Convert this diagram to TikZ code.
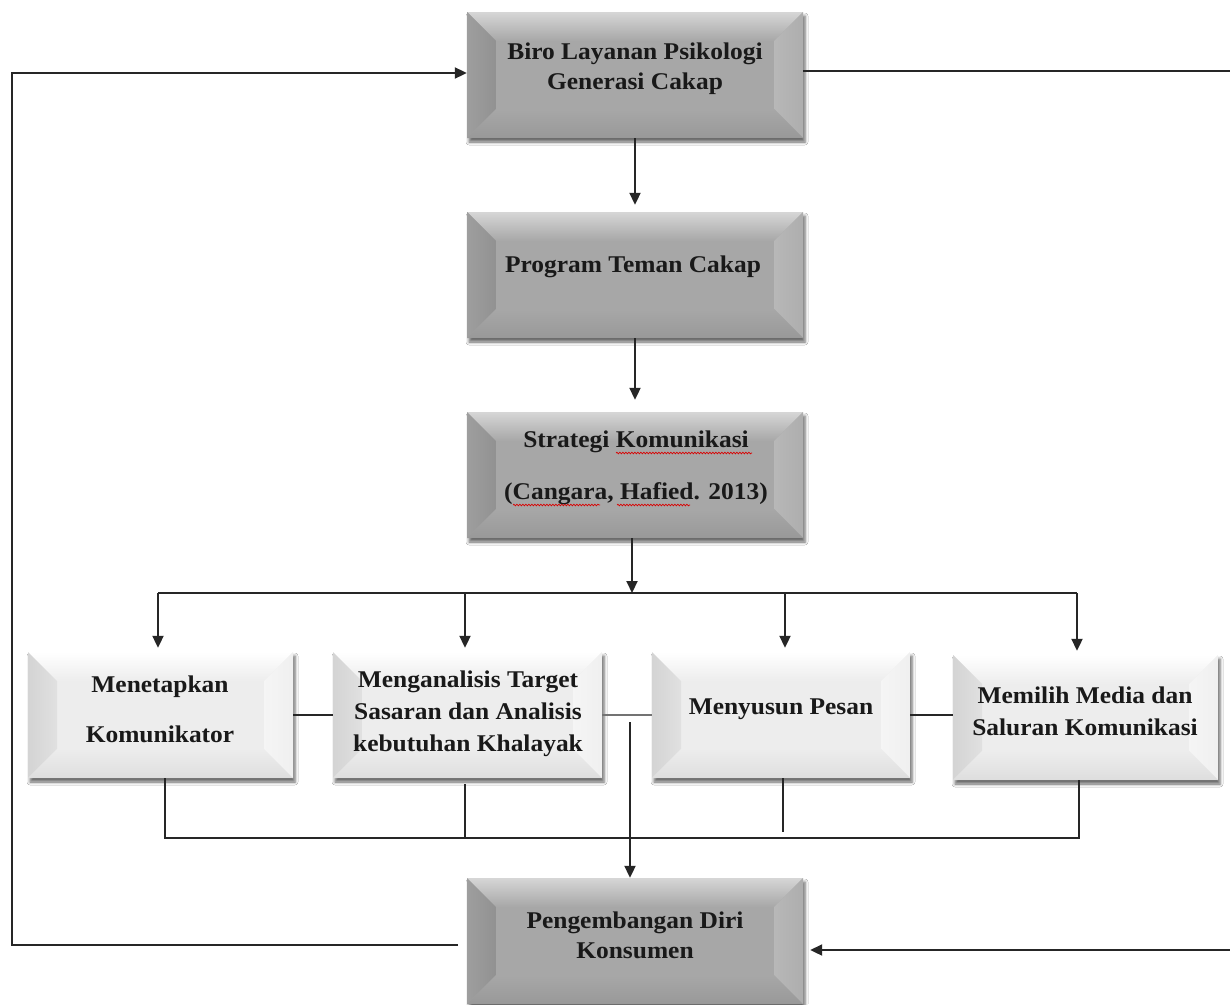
\documentclass[tikz,border=0pt]{standalone}
\usepackage{fontspec}
\setmainfont[FakeStretch=1.06]{Liberation Serif}
\usetikzlibrary{arrows.meta,calc,shadows.blur,decorations.pathmorphing}
\def\bv{29pt}
\newcommand\bevpaint[5]{%
 \coordinate (bsw) at (path picture bounding box.south west);
 \coordinate (bne) at (path picture bounding box.north east);
 \coordinate (bnw) at (path picture bounding box.north west);
 \coordinate (bse) at (path picture bounding box.south east);
 \fill[#1] (bsw) rectangle (bne);
 \path[#2] (bnw) -- (bne) -- ($(bne)+(-\bv,-\bv)$) -- ($(bnw)+(\bv,-\bv)$) -- cycle;
 \path[#3] (bnw) -- ($(bnw)+(\bv,-\bv)$) -- ($(bsw)+(\bv,\bv)$) -- (bsw) -- cycle;
 \path[#4] (bne) -- ($(bne)+(-\bv,-\bv)$) -- ($(bse)+(-\bv,\bv)$) -- (bse) -- cycle;
 \path[#5] (bsw) -- ($(bsw)+(\bv,\bv)$) -- ($(bse)+(-\bv,\bv)$) -- (bse) -- cycle;
}
\definecolor{dface}{HTML}{A7A7A7}
\definecolor{lface}{HTML}{EDEDED}
\tikzset{
 boxbase/.style={rectangle, inner sep=0pt, minimum height=126pt,
   blur shadow={shadow xshift=2pt, shadow yshift=-4pt, shadow blur radius=3pt, shadow opacity=60}},
 darkbox/.style={boxbase, fill=dface, minimum width=336pt,
   path picture={\bevpaint{fill=dface}{top color=white!84!black, bottom color=dface}{left color=white!62!black, right color=white!57!black}{left color=white!72!black, right color=white!68!black}{top color=dface, bottom color=white!60!black}}},
 lightbox/.style={boxbase, fill=lface,
   path picture={\bevpaint{fill=lface}{top color=white, bottom color=lface}{left color=white!83!black, right color=white!88!black}{left color=white!96!black, right color=white!94!black}{top color=lface, bottom color=white!87!black}}},
 lbl/.style={font=\fontsize{24}{30}\selectfont\bfseries, align=center, inner sep=0pt, text=black!90},
 ln/.style={line width=2pt, draw=black!85},
 arr/.style={ln, -{Triangle[length=12pt,width=11pt]}},
 squig/.style={red!85!black, line width=0.7pt, decorate, decoration={snake, amplitude=0.8pt, segment length=3pt}}
}
\begin{document}
\begin{tikzpicture}[x=1pt,y=-1pt]
\clip (0,0) rectangle (1230,1004);
\fill[white] (0,0) rectangle (1230,1004);
% boxes
\node[darkbox] (b1) at (635,75) {};
\node[darkbox] (b2) at (635,275) {};
\node[darkbox] (b3) at (635,475) {};
\node[darkbox] (b5) at (635,941) {};
\node[lightbox, minimum width=265pt] (bA) at (160.5,715) {};
\node[lightbox, minimum width=269pt] (bB) at (467.5,715) {};
\node[lightbox, minimum width=258pt] (bC) at (781,715) {};
\node[lightbox, minimum width=265pt, minimum height=125pt] (bD) at (1085.5,717.5) {};
% texts
\node[lbl] (t1) at (635,69) {Biro Layanan Psikologi\\Generasi Cakap};
\node[lbl] (t2) at (633,267) {Program Teman Cakap};
\node[lbl] (t3) at (636,468) {Strategi Komunikasi\\[22pt](Cangara, Hafied. 2013)};
\node[lbl] (tA) at (160,709) {Menetapkan\\[20pt]Komunikator};
\node[lbl] (tB) at (468,714) {Menganalisis Target\\[2pt]Sasaran dan Analisis\\[2pt]kebutuhan Khalayak};
\node[lbl] (tC) at (781,709) {Menyusun Pesan};
\node[lbl] (tD) at (1085,711) {Memilih Media dan\\[2pt]Saluran Komunikasi};
\node[lbl] (t5) at (635,935) {Pengembangan Diri\\Konsumen};
% spell-check marks
\draw[squig] (616,453) -- (752,453);
\draw[squig] (513,505) -- (600,505);
\draw[squig] (617,505) -- (690,505);
% coordinates
\coordinate (jt) at (632,593);
\coordinate (busL) at (158,593);
\coordinate (busR) at (1077,593);
\coordinate (kB) at (465,593);
\coordinate (kC) at (785,593);
\coordinate (lA) at (165,838);
\coordinate (lB) at (465,838);
\coordinate (lD) at (1079,838);
\coordinate (cC) at (783,832);
\coordinate (vtop) at (630,722);
\coordinate (fl) at (458,945);
\coordinate (lc1) at (12,945);
\coordinate (lc2) at (12,73);
\coordinate (r1) at (1230,71);
\coordinate (r2) at (1230,950);
% connectors
\draw[arr, shorten >=7pt] (b1) -- (b2);
\draw[arr, shorten >=12pt] (b2) -- (b3);
\draw[arr] (b3.south -| jt) -- (jt);
\draw[ln] (busL) -- (busR);
\draw[arr, shorten >=4pt] (busL) -- (busL |- bA.north);
\draw[arr, shorten >=4pt] (kB) -- (kB |- bB.north);
\draw[arr, shorten >=4pt] (kC) -- (kC |- bC.north);
\draw[arr, shorten >=4pt] (busR) -- (busR |- bD.north);
\draw[ln] (bA.east) -- (bB.west);
\draw[ln, draw=black!55, line width=2.5pt] (bB.east) -- (bC.west);
\draw[ln] (bC.east) -- (bC.east -| bD.west);
\draw[ln] (lA |- bA.south) -- (lA) -- (lD) -- (lD |- bD.south);
\draw[ln] ([yshift=-6pt]lB |- bB.south) -- (lB);
\draw[ln] (cC |- bC.south) -- (cC);
\draw[arr] (vtop) -- (vtop |- b5.north);
\draw[arr] (fl) -- (lc1) -- (lc2) -- (lc2 -| b1.west);
\draw[ln] (r1 -| b1.east) -- (r1);
\draw[arr, shorten >=7pt] (r2) -- (r2 -| b5.east);
\end{tikzpicture}
\end{document}
